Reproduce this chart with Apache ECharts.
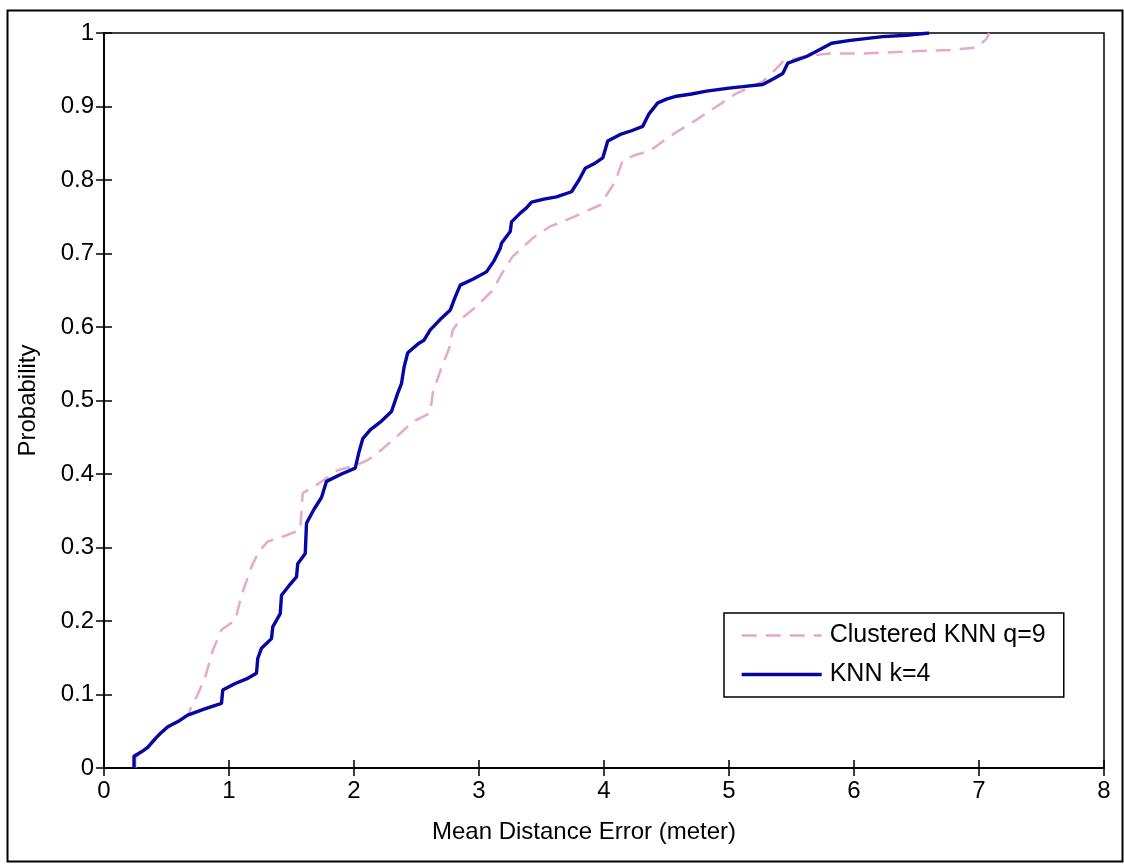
<!DOCTYPE html>
<html>
<head>
<meta charset="utf-8">
<script src="https://cdn.jsdelivr.net/npm/echarts@6/dist/echarts.min.js"></script>
<style>html,body{margin:0;padding:0;background:#fff}#c{width:1124px;height:864px}</style>
</head>
<body>
<div id="c"></div>
<script>
// ---- data ----
var seriesNames = ["Clustered KNN q=9", "KNN k=4"];
var xTicks = [0, 1, 2, 3, 4, 5, 6, 7, 8];
var yTicks = [0, 0.1, 0.2, 0.3, 0.4, 0.5, 0.6, 0.7, 0.8, 0.9, 1];
var xTitle = "Mean Distance Error (meter)";
var yTitle = "Probability";

var clusteredX = [0.25,0.25,0.32,0.41,0.51,0.60,0.68,0.70,0.75,0.81,0.87,0.94,1.05,1.10,1.18,1.24,1.31,1.45,1.57,1.59,1.70,1.87,2.02,2.12,2.22,2.35,2.47,2.61,2.63,2.70,2.76,2.79,2.85,2.98,3.11,3.18,3.27,3.43,3.57,3.65,3.80,3.97,4.09,4.15,4.25,4.37,4.45,4.55,4.74,4.90,5.06,5.27,5.37,5.43,5.60,5.80,6.07,6.45,6.77,6.98,7.06,7.08];
var clusteredY = [0,0.014,0.024,0.038,0.055,0.064,0.074,0.085,0.10,0.124,0.160,0.188,0.201,0.235,0.274,0.295,0.308,0.316,0.324,0.374,0.385,0.405,0.412,0.42,0.433,0.452,0.471,0.483,0.51,0.545,0.57,0.596,0.61,0.628,0.65,0.672,0.696,0.721,0.737,0.742,0.753,0.766,0.798,0.827,0.834,0.840,0.850,0.862,0.882,0.900,0.918,0.934,0.950,0.961,0.968,0.972,0.972,0.975,0.977,0.980,0.992,1.0];

var knnX = [0.24,0.24,0.30,0.35,0.41,0.45,0.51,0.60,0.67,0.80,0.94,0.95,1.05,1.15,1.22,1.23,1.26,1.34,1.35,1.41,1.42,1.48,1.54,1.55,1.61,1.62,1.68,1.74,1.78,1.90,2.01,2.04,2.07,2.13,2.22,2.30,2.35,2.38,2.40,2.43,2.52,2.56,2.61,2.70,2.77,2.81,2.85,2.95,3.06,3.12,3.17,3.18,3.25,3.26,3.33,3.38,3.42,3.52,3.62,3.74,3.80,3.85,3.92,3.99,4.03,4.13,4.22,4.31,4.36,4.43,4.50,4.58,4.70,4.82,5.00,5.11,5.27,5.36,5.43,5.47,5.62,5.72,5.82,5.97,6.23,6.42,6.60];
var knnY = [0,0.016,0.022,0.028,0.040,0.047,0.056,0.064,0.072,0.080,0.088,0.106,0.115,0.122,0.129,0.149,0.163,0.176,0.192,0.21,0.235,0.248,0.26,0.278,0.292,0.333,0.352,0.368,0.39,0.40,0.408,0.430,0.448,0.46,0.472,0.485,0.51,0.523,0.545,0.565,0.578,0.582,0.596,0.612,0.623,0.641,0.657,0.665,0.675,0.69,0.707,0.714,0.730,0.743,0.755,0.762,0.770,0.774,0.777,0.784,0.80,0.816,0.822,0.830,0.853,0.862,0.867,0.873,0.89,0.905,0.910,0.914,0.917,0.921,0.925,0.927,0.930,0.938,0.945,0.959,0.968,0.977,0.986,0.99,0.995,0.997,1.0];

function pairs(xs, ys) { return xs.map(function (x, i) { return [x, ys[i]]; }); }

var FONT = "'Liberation Sans', Arial, sans-serif";
var FS = 24;
var black = "#000";
var pink = '#e6a9c8';
var blue = '#0606a4';

var chart = echarts.init(document.getElementById('c'), null, {renderer: 'canvas'});
var tickStyle = {show: true, inside: true, length: 8, lineStyle: {color: black, width: 1.5}};
chart.setOption({
  animation: false,
  backgroundColor: '#fff',
  graphic: [{
    type: 'rect', left: 5, top: 8, shape: {x: 0, y: 0, width: 1115, height: 851},
    style: {fill: 'none', stroke: black, lineWidth: 2}, silent: true, z: -1
  }],
  grid: {left: 104, top: 33, width: 1000, height: 735, show: true, borderColor: black, borderWidth: 1.5, backgroundColor: '#fff'},
  legend: {
    left: 724, top: 613, orient: 'vertical',
    backgroundColor: '#fff', borderColor: black, borderWidth: 1.5,
    padding: [10, 18, 10, 16], itemWidth: 80, itemHeight: 18, itemGap: 14,
    itemStyle: {opacity: 0},
    textStyle: {fontFamily: FONT, fontSize: 25, color: black, padding: [0, 0, 0, 3]},
    data: [
      {name: seriesNames[0], lineStyle: {width: 2.5, color: pink, type: [15, 9]}},
      {name: seriesNames[1], lineStyle: {width: 3.4, color: blue}}
    ]
  },
  xAxis: [{
    type: 'value', min: xTicks[0], max: xTicks[xTicks.length - 1], interval: 1, position: 'bottom',
    name: xTitle, nameLocation: 'middle', nameGap: 52,
    nameTextStyle: {fontFamily: FONT, fontSize: FS, color: black, padding: [0, 40, 0, 0]},
    axisLine: {show: true, lineStyle: {color: black, width: 1.5}},
    axisTick: tickStyle, splitLine: {show: false},
    axisLabel: {fontFamily: FONT, fontSize: FS, color: black, margin: 11}
  }, {
    type: 'value', min: xTicks[0], max: xTicks[xTicks.length - 1], interval: 1, position: 'top',
    axisLine: {show: true, lineStyle: {color: black, width: 1.5}},
    axisTick: tickStyle, splitLine: {show: false}, axisLabel: {show: false}
  }],
  yAxis: [{
    type: 'value', min: yTicks[0], max: yTicks[yTicks.length - 1], interval: 0.1, position: 'left',
    name: yTitle, nameLocation: 'middle', nameGap: 64,
    nameTextStyle: {fontFamily: FONT, fontSize: FS, color: black},
    axisLine: {show: true, lineStyle: {color: black, width: 1.5}},
    axisTick: tickStyle, splitLine: {show: false},
    axisLabel: {fontFamily: FONT, fontSize: FS, color: black, margin: 10,
      formatter: function (v) { return String(Math.round(v * 10) / 10); }}
  }, {
    type: 'value', min: yTicks[0], max: yTicks[yTicks.length - 1], interval: 0.1, position: 'right',
    axisLine: {show: true, lineStyle: {color: black, width: 1.5}},
    axisTick: tickStyle, splitLine: {show: false}, axisLabel: {show: false}
  }],
  series: [{
    name: seriesNames[0], type: 'line', xAxisIndex: 0, yAxisIndex: 0,
    data: pairs(clusteredX, clusteredY), showSymbol: false, symbol: 'none',
    lineStyle: {color: pink, width: 2.5, type: [15, 9]}, itemStyle: {color: pink}, z: 2
  }, {
    name: seriesNames[1], type: 'line', xAxisIndex: 0, yAxisIndex: 0,
    data: pairs(knnX, knnY), showSymbol: false, symbol: 'none',
    lineStyle: {color: blue, width: 3.4}, itemStyle: {color: blue}, z: 3
  }]
});
</script>
</body>
</html>
